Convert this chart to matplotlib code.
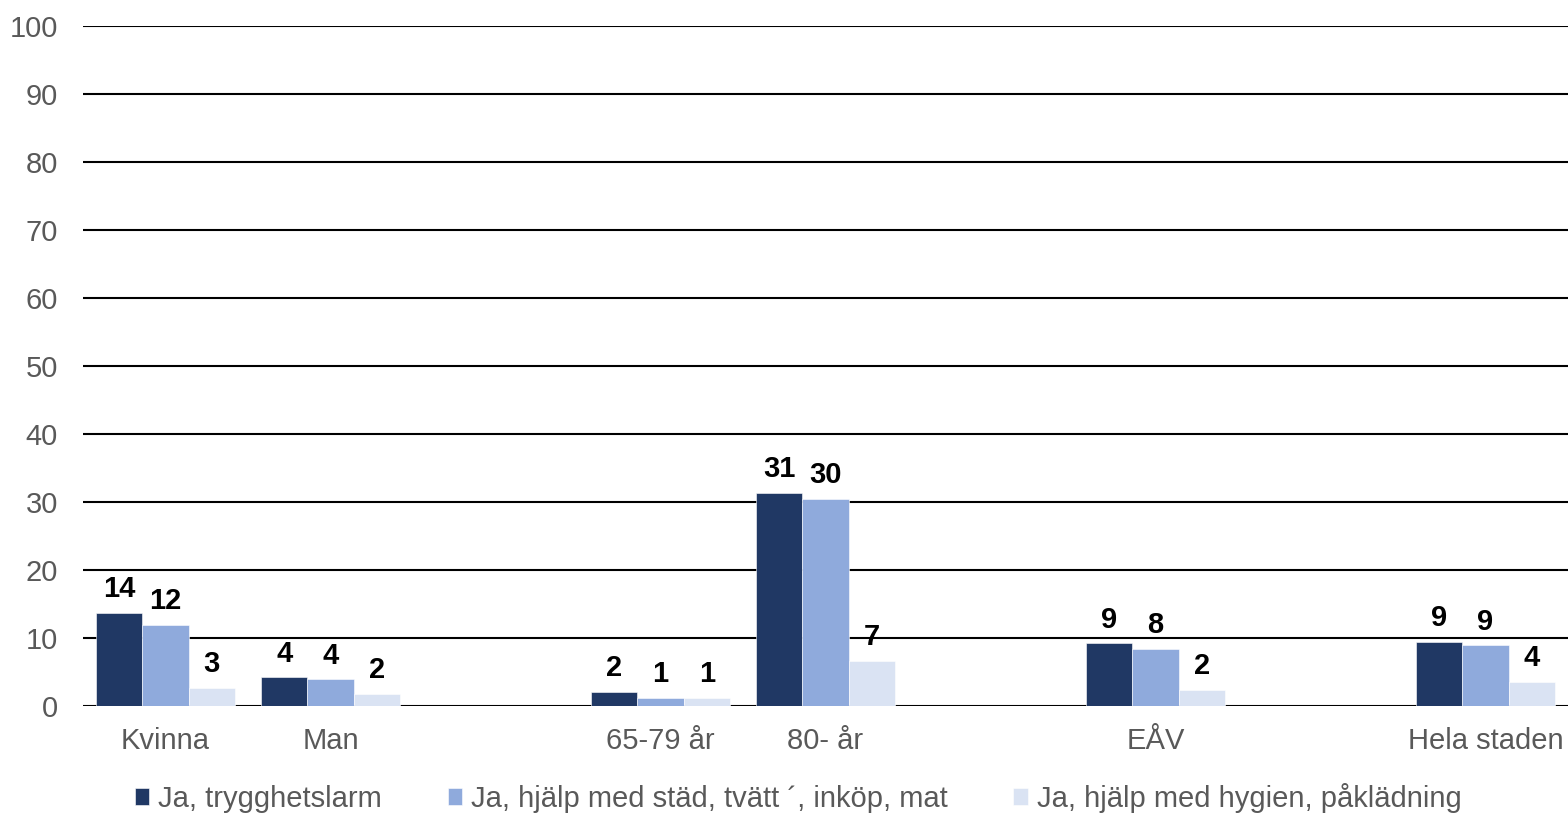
import matplotlib
matplotlib.use("Agg")
import matplotlib.pyplot as plt
import numpy as np

plt.rcParams['font.family'] = ['Liberation Sans', 'DejaVu Sans']

categories = ['Kvinna', 'Man', '65-79 år', '80- år', 'EÅV', 'Hela staden']
series_names = ['Ja, trygghetslarm',
                'Ja, hjälp med städ, tvätt ´, inköp, mat',
                'Ja, hjälp med hygien, påklädning']
larm = [13.7, 4.2, 2.1, 31.3, 9.2, 9.4]
stad = [11.9, 3.9, 1.2, 30.5, 8.4, 8.9]
hygien = [2.7, 1.8, 1.2, 6.6, 2.4, 3.6]
yticks = [0, 10, 20, 30, 40, 50, 60, 70, 80, 90, 100]

colors = ['#203864', '#8FAADC', '#DAE3F3']
grey = '#595959'

# categories sit in 9 slots, some left empty as spacers
slots = np.array([0, 1, 3, 4, 6, 8])
width = 0.28

fig = plt.figure(figsize=(15.68, 8.13), dpi=100)
ax = fig.add_axes([83 / 1568, 107 / 813, 1 - 83 / 1568, 680 / 813])

handles = []
for i, (vals, name) in enumerate(zip([larm, stad, hygien], series_names)):
    xs = slots + (i - 1) * width
    bars = ax.bar(xs, vals, width, color=colors[i], edgecolor='white',
                  linewidth=0.4, label=name, zorder=3)
    handles.append(bars)
    for x, v in zip(xs, vals):
        ax.annotate(f"{v:.0f}", (x, v), xytext=(0, 7), textcoords='offset points',
                    ha='center', va='bottom', fontsize=21, fontweight='bold',
                    color='black', zorder=4)

ax.set_xlim(-0.5, 8.5)
ax.set_ylim(0, 100)
ax.set_yticks(yticks)
ax.set_yticklabels([str(t) for t in yticks])
ax.set_xticks(slots)
ax.set_xticklabels(categories)
ax.tick_params(axis='both', length=0, labelsize=21, colors=grey)
ax.tick_params(axis='y', pad=18)
ax.tick_params(axis='x', pad=15)
ax.grid(True, axis='y', color='black', linewidth=1.5, zorder=0)
for s in ax.spines.values():
    s.set_visible(False)

fig.legend(handles=handles, loc='lower center', bbox_to_anchor=(0.509, -0.032),
           ncol=3, frameon=False, fontsize=21, labelcolor=grey,
           handlelength=0.5, handleheight=0.5, handletextpad=0.3,
           columnspacing=2.25)

fig.savefig("out.png", dpi=100)
